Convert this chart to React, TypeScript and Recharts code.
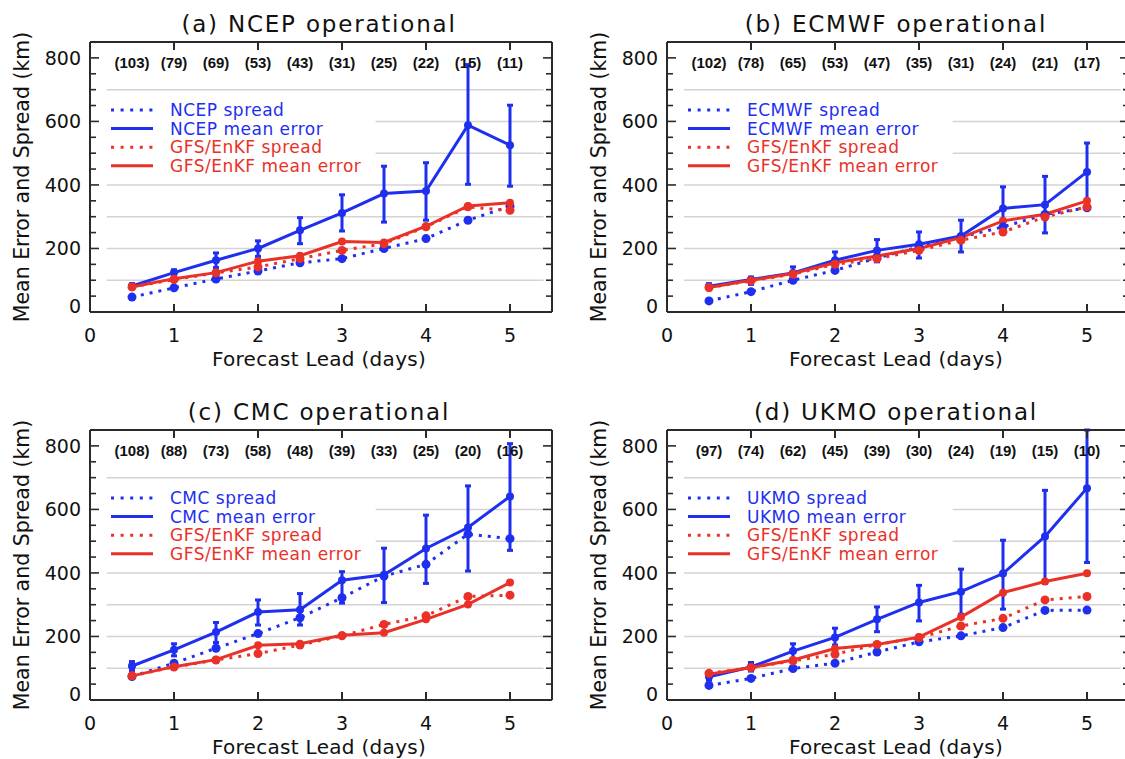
import { LineChart, Line, XAxis, YAxis, ErrorBar, ReferenceLine } from 'recharts'

const leads = [0.5, 1, 1.5, 2, 2.5, 3, 3.5, 4, 4.5, 5]
const xTickLabels = [0, 1, 2, 3, 4, 5]
const yTicks = [0, 50, 100, 150, 200, 250, 300, 350, 400, 450, 500, 550, 600, 650, 700, 750, 800]
const yLabelled = [0, 200, 400, 600, 800]
const gridValues = [100, 200, 300, 400, 500, 600, 700]
const gridUnderLegend = [500, 600]

// (a) NCEP
const ncepCounts = [103, 79, 69, 53, 43, 31, 25, 22, 15, 11]
const ncepMean = [82, 124, 163, 200, 257, 312, 373, 381, 588, 525]
const ncepLow = [73, 110, 140, 175, 215, 255, 283, 289, 402, 396]
const ncepHigh = [89, 133, 186, 224, 297, 369, 459, 470, 779, 651]
const ncepSpread = [47, 76, 104, 129, 155, 168, 200, 231, 289, 333]
const ncepGfsMean = [79, 105, 124, 160, 177, 222, 219, 270, 334, 344]
const ncepGfsSpread = [79, 102, 123, 142, 168, 194, 215, 268, 331, 320]

// (b) ECMWF
const ecmwfCounts = [102, 78, 65, 53, 47, 35, 31, 24, 21, 17]
const ecmwfMean = [81, 102, 123, 163, 194, 213, 239, 326, 338, 441]
const ecmwfLow = [70, 87, 105, 137, 158, 170, 189, 257, 249, 352]
const ecmwfHigh = [89, 110, 142, 189, 228, 252, 289, 394, 427, 532]
const ecmwfSpread = [35, 64, 100, 131, 170, 205, 236, 268, 307, 328]
const ecmwfGfsMean = [77, 100, 121, 155, 176, 200, 234, 287, 308, 350]
const ecmwfGfsSpread = [77, 98, 119, 150, 168, 194, 226, 252, 299, 331]

// (c) CMC
const cmcCounts = [108, 88, 73, 58, 48, 39, 33, 25, 20, 16]
const cmcMean = [107, 158, 214, 277, 284, 377, 394, 477, 543, 641]
const cmcLow = [93, 139, 181, 236, 236, 305, 307, 367, 406, 471]
const cmcHigh = [121, 177, 244, 315, 335, 404, 478, 582, 674, 807]
const cmcSpread = [74, 116, 163, 209, 259, 322, 390, 427, 522, 508]
const cmcGfsMean = [76, 105, 127, 172, 177, 204, 212, 254, 301, 370]
const cmcGfsSpread = [76, 104, 126, 146, 173, 202, 238, 265, 326, 330]

// (d) UKMO  (last bar runs past the top of the frame)
const ukmoCounts = [97, 74, 62, 45, 39, 30, 24, 19, 15, 10]
const ukmoMean = [73, 104, 154, 197, 254, 307, 341, 398, 515, 667]
const ukmoLow = [62, 91, 131, 173, 215, 249, 270, 286, 367, 433]
const ukmoHigh = [81, 118, 177, 226, 293, 361, 412, 503, 660, 850]
const ukmoSpread = [46, 68, 99, 116, 151, 183, 202, 228, 282, 283]
const ukmoGfsMean = [81, 102, 126, 162, 175, 198, 261, 338, 373, 399]
const ukmoGfsSpread = [84, 102, 123, 144, 175, 196, 233, 257, 315, 326]

const panels = [
  { title: '(a) NCEP operational', name: 'NCEP', counts: ncepCounts, mean: ncepMean, low: ncepLow, high: ncepHigh, spread: ncepSpread, gfsMean: ncepGfsMean, gfsSpread: ncepGfsSpread },
  { title: '(b) ECMWF operational', name: 'ECMWF', counts: ecmwfCounts, mean: ecmwfMean, low: ecmwfLow, high: ecmwfHigh, spread: ecmwfSpread, gfsMean: ecmwfGfsMean, gfsSpread: ecmwfGfsSpread },
  { title: '(c) CMC operational', name: 'CMC', counts: cmcCounts, mean: cmcMean, low: cmcLow, high: cmcHigh, spread: cmcSpread, gfsMean: cmcGfsMean, gfsSpread: cmcGfsSpread },
  { title: '(d) UKMO operational', name: 'UKMO', counts: ukmoCounts, mean: ukmoMean, low: ukmoLow, high: ukmoHigh, spread: ukmoSpread, gfsMean: ukmoGfsMean, gfsSpread: ukmoGfsSpread },
]

// where each panel sits on the page
const slots = [
  { left: 0, top: 0 },
  { left: 577, top: 0 },
  { left: 0, top: 388 },
  { left: 577, top: 388 },
]

const BLUE = '#1e2ff0'
const RED = '#ea3128'
const FRAME = '#2a2a2a'
const GRID = '#d4d4d4'
const INK = '#111'
const FONT = '"DejaVu Sans", sans-serif'

const W = 562
const H = 388
const PL = 90 // plot left
const PT = 42 // plot top
const PW = 462
const PH = 270
const TOP_AXIS = 10

const BottomTick = (props: any) => {
  const { x, y, payload } = props
  return (
    <g>
      <line x1={x} x2={x} y1={y} y2={y - 8} stroke={FRAME} strokeWidth={2} />
      <text x={x} y={y + 30} textAnchor="middle" fontSize={19} fontFamily={FONT} fill={INK}>
        {payload.value}
      </text>
    </g>
  )
}

const TopTick = (props: any) => {
  const { x, y, payload, counts } = props
  const v = payload.value
  const i = leads.indexOf(v)
  return (
    <g>
      {Number.isInteger(v) && <line x1={x} x2={x} y1={y} y2={y + 8} stroke={FRAME} strokeWidth={2} />}
      <text x={x} y={y + 26} textAnchor="middle" fontSize={15} fontWeight="bold" fontFamily='"Liberation Sans", Arial, sans-serif' fill={INK}>
        ({counts[i]})
      </text>
    </g>
  )
}

const LeftTick = (props: any) => {
  const { x, y, payload } = props
  const v = payload.value
  const major = yLabelled.includes(v)
  return (
    <g>
      <line x1={x} x2={x + (major ? 9 : 6)} y1={y} y2={y} stroke={FRAME} strokeWidth={1.6} />
      {major && (
        <text x={x - 9} y={y + (v === 0 ? -6 : 0)} dy="0.36em" textAnchor="end" fontSize={19} fontFamily={FONT} fill={INK}>
          {v}
        </text>
      )}
    </g>
  )
}

const RightTick = (props: any) => {
  const { x, y, payload } = props
  const major = yLabelled.includes(payload.value)
  return <line x1={x} x2={x - (major ? 9 : 6)} y1={y} y2={y} stroke={FRAME} strokeWidth={1.6} />
}

function Panel({ p }: { p: (typeof panels)[number] }) {
  const rows = leads.map((lead, i) => ({
    lead,
    opSpread: p.spread[i],
    opMean: p.mean[i],
    opBar: [p.mean[i] - p.low[i], p.high[i] - p.mean[i]],
    gfsSpread: p.gfsSpread[i],
    gfsMean: p.gfsMean[i],
  }))
  const legend = [
    { label: `${p.name} spread`, color: BLUE, dotted: true },
    { label: `${p.name} mean error`, color: BLUE, dotted: false },
    { label: 'GFS/EnKF spread', color: RED, dotted: true },
    { label: 'GFS/EnKF mean error', color: RED, dotted: false },
  ]
  const axisLine = { stroke: FRAME, strokeWidth: 2 }

  return (
    <div style={{ position: 'relative', width: W, height: H }}>
      <LineChart width={W} height={H} data={rows} margin={{ top: PT - TOP_AXIS, right: 0, bottom: 0, left: 0 }}>
        {gridValues.map(v => (
          <ReferenceLine
            key={v}
            segment={[{ x: gridUnderLegend.includes(v) ? 3.4 : 0.2, y: v }, { x: 5.4, y: v }]}
            stroke={GRID}
            strokeWidth={1.5}
          />
        ))}
        <XAxis
          dataKey="lead"
          type="number"
          domain={[0, 5.5]}
          ticks={xTickLabels}
          interval={0}
          allowDataOverflow
          height={H - PT - PH}
          tickSize={0}
          tickMargin={0}
          tickLine={false}
          axisLine={axisLine}
          tick={<BottomTick />}
        />
        <XAxis
          xAxisId="top"
          dataKey="lead"
          orientation="top"
          type="number"
          domain={[0, 5.5]}
          ticks={leads}
          interval={0}
          allowDataOverflow
          height={TOP_AXIS}
          tickSize={0}
          tickMargin={0}
          tickLine={false}
          axisLine={axisLine}
          tick={<TopTick counts={p.counts} />}
        />
        <YAxis
          type="number"
          domain={[0, 850]}
          ticks={yTicks}
          interval={0}
          allowDataOverflow
          width={PL}
          tickSize={0}
          tickMargin={0}
          tickLine={false}
          axisLine={axisLine}
          tick={<LeftTick />}
        />
        <YAxis
          yAxisId="right"
          orientation="right"
          type="number"
          domain={[0, 850]}
          ticks={yTicks}
          interval={0}
          allowDataOverflow
          width={W - PL - PW}
          tickSize={0}
          tickMargin={0}
          tickLine={false}
          axisLine={axisLine}
          tick={<RightTick />}
        />
        <Line
          dataKey="opSpread"
          stroke={BLUE}
          strokeWidth={3}
          strokeDasharray="3 6"
          dot={{ r: 4.5, fill: BLUE, stroke: 'none' }}
          isAnimationActive={false}
        />
        <Line
          dataKey="opMean"
          stroke={BLUE}
          strokeWidth={3}
          dot={{ r: 4, fill: BLUE, stroke: 'none' }}
          isAnimationActive={false}
        >
          <ErrorBar dataKey="opBar" direction="y" width={3} stroke={BLUE} strokeWidth={3} isAnimationActive={false} />
        </Line>
        <Line
          dataKey="gfsSpread"
          stroke={RED}
          strokeWidth={3}
          strokeDasharray="3 6"
          dot={{ r: 4.5, fill: RED, stroke: 'none' }}
          isAnimationActive={false}
        />
        <Line
          xAxisId="top"
          dataKey="gfsMean"
          stroke={RED}
          strokeWidth={3}
          dot={{ r: 4, fill: RED, stroke: 'none' }}
          isAnimationActive={false}
        />
      </LineChart>
      <svg width={W} height={H} style={{ position: 'absolute', left: 0, top: 0, pointerEvents: 'none' }}>
        <text x={PL + 229} y={PT - 10} textAnchor="middle" fontSize={23} letterSpacing={1.8} fontFamily={FONT} fill={INK}>
          {p.title}
        </text>
        <text x={PL + 229} y={PT + PH + 54} textAnchor="middle" fontSize={20} letterSpacing={0.3} fontFamily={FONT} fill={INK}>
          Forecast Lead (days)
        </text>
        <text
          transform={`translate(29, ${PT + PH / 2}) rotate(-90)`}
          textAnchor="middle"
          fontSize={20.5}
          fontFamily={FONT}
          fill={INK}
        >
          Mean Error and Spread (km)
        </text>
        {legend.map((item, i) => {
          const y = PT + 68 + i * 18.6
          return (
            <g key={item.label}>
              <line
                x1={PL + 21}
                x2={PL + 63}
                y1={y}
                y2={y}
                stroke={item.color}
                strokeWidth={3}
                strokeDasharray={item.dotted ? '3 6.6' : undefined}
              />
              <text x={PL + 80} y={y} dy="0.36em" fontSize={17} letterSpacing={0.5} fontFamily={FONT} fill={item.color}>
                {item.label}
              </text>
            </g>
          )
        })}
      </svg>
    </div>
  )
}

export default function App() {
  return (
    <div style={{ position: 'absolute', left: 0, top: 0, width: 1125, height: 759, overflow: 'hidden', background: '#fff' }}>
      {panels.map((p, i) => (
        <div key={p.name} style={{ position: 'absolute', left: slots[i].left, top: slots[i].top }}>
          <Panel p={p} />
        </div>
      ))}
    </div>
  )
}
